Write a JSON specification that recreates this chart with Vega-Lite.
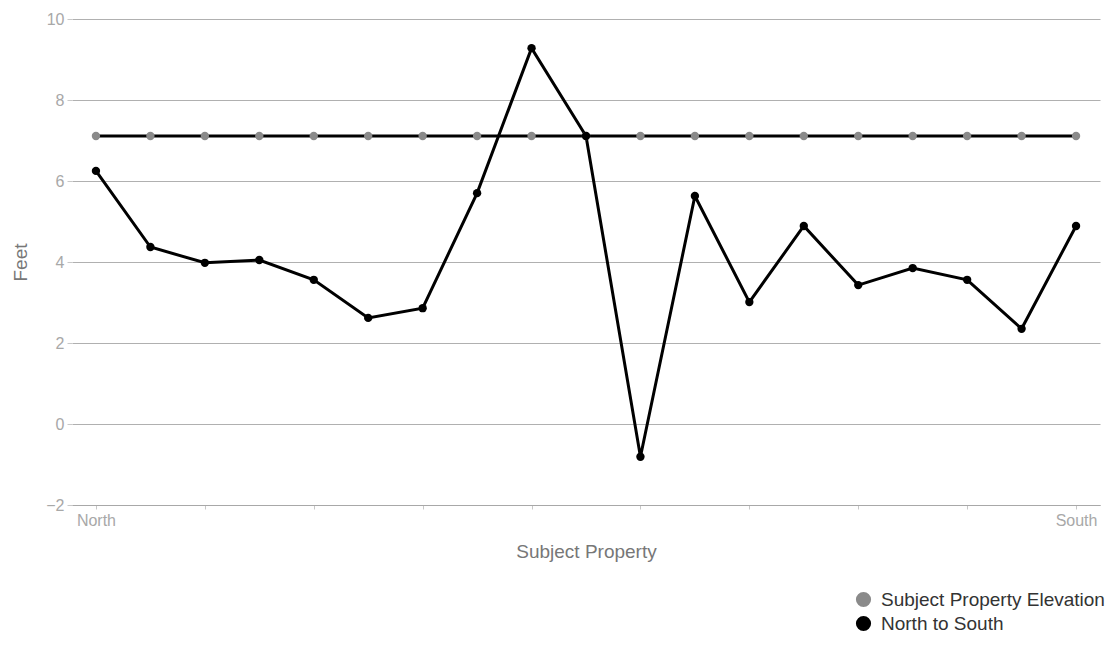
{
  "$schema": "https://vega.github.io/schema/vega-lite/v6.json",
  "width": 1028,
  "height": 486,
  "autosize": "none",
  "padding": {"left": 72, "top": 19, "right": 20, "bottom": 157},
  "background": "white",
  "config": {
    "font": "Liberation Sans",
    "view": {"stroke": null}
  },
  "data": {
    "values": [
      {"i": 1, "series": "Subject Property Elevation", "value": 7.11},
      {"i": 2, "series": "Subject Property Elevation", "value": 7.11},
      {"i": 3, "series": "Subject Property Elevation", "value": 7.11},
      {"i": 4, "series": "Subject Property Elevation", "value": 7.11},
      {"i": 5, "series": "Subject Property Elevation", "value": 7.11},
      {"i": 6, "series": "Subject Property Elevation", "value": 7.11},
      {"i": 7, "series": "Subject Property Elevation", "value": 7.11},
      {"i": 8, "series": "Subject Property Elevation", "value": 7.11},
      {"i": 9, "series": "Subject Property Elevation", "value": 7.11},
      {"i": 10, "series": "Subject Property Elevation", "value": 7.11},
      {"i": 11, "series": "Subject Property Elevation", "value": 7.11},
      {"i": 12, "series": "Subject Property Elevation", "value": 7.11},
      {"i": 13, "series": "Subject Property Elevation", "value": 7.11},
      {"i": 14, "series": "Subject Property Elevation", "value": 7.11},
      {"i": 15, "series": "Subject Property Elevation", "value": 7.11},
      {"i": 16, "series": "Subject Property Elevation", "value": 7.11},
      {"i": 17, "series": "Subject Property Elevation", "value": 7.11},
      {"i": 18, "series": "Subject Property Elevation", "value": 7.11},
      {"i": 19, "series": "Subject Property Elevation", "value": 7.11},
      {"i": 1, "series": "North to South", "value": 6.25},
      {"i": 2, "series": "North to South", "value": 4.37},
      {"i": 3, "series": "North to South", "value": 3.98},
      {"i": 4, "series": "North to South", "value": 4.05},
      {"i": 5, "series": "North to South", "value": 3.56},
      {"i": 6, "series": "North to South", "value": 2.62},
      {"i": 7, "series": "North to South", "value": 2.86},
      {"i": 8, "series": "North to South", "value": 5.7},
      {"i": 9, "series": "North to South", "value": 9.28},
      {"i": 10, "series": "North to South", "value": 7.11},
      {"i": 11, "series": "North to South", "value": -0.81},
      {"i": 12, "series": "North to South", "value": 5.63},
      {"i": 13, "series": "North to South", "value": 3.01},
      {"i": 14, "series": "North to South", "value": 4.89},
      {"i": 15, "series": "North to South", "value": 3.43},
      {"i": 16, "series": "North to South", "value": 3.85},
      {"i": 17, "series": "North to South", "value": 3.56},
      {"i": 18, "series": "North to South", "value": 2.35},
      {"i": 19, "series": "North to South", "value": 4.89}
    ]
  },
  "encoding": {
    "x": {
      "field": "i",
      "type": "quantitative",
      "scale": {"domain": [0.56, 19.44], "nice": false, "zero": false},
      "axis": {
        "title": "Subject Property",
        "titleFont": "Liberation Sans",
        "titleFontSize": 19,
        "titleFontWeight": "normal",
        "titleColor": "#777777",
        "titlePadding": 14,
        "values": [1, 3, 5, 7, 9, 11, 13, 15, 17, 19],
        "labelExpr": "datum.value == 1 ? 'North' : (datum.value == 19 ? 'South' : '')",
        "labelFontSize": 16,
        "labelColor": "#a8a8a8",
        "labelPadding": 3,
        "tickSize": 4,
        "tickColor": "#c8c8c8",
        "domainColor": "#a8a8a8",
        "grid": false
      }
    },
    "y": {
      "field": "value",
      "type": "quantitative",
      "scale": {"domain": [-2, 10], "nice": false},
      "axis": {
        "title": "Feet",
        "titleFont": "Liberation Sans",
        "titleFontSize": 19,
        "titleFontWeight": "normal",
        "titleColor": "#777777",
        "titlePadding": 15,
        "values": [-2, 0, 2, 4, 6, 8, 10],
        "labelFontSize": 16,
        "labelColor": "#a8a8a8",
        "labelPadding": 3,
        "tickSize": 5,
        "tickColor": "#c8c8c8",
        "domain": false,
        "grid": true,
        "gridColor": "#b0b0b0",
        "gridWidth": 1.2
      }
    }
  },
  "layer": [
    {
      "mark": {"type": "line", "color": "black", "strokeWidth": 3},
      "encoding": {"detail": {"field": "series"}}
    },
    {
      "mark": {"type": "point", "filled": true, "opacity": 1, "size": 70},
      "encoding": {
        "color": {
          "field": "series",
          "type": "nominal",
          "scale": {
            "domain": ["Subject Property Elevation", "North to South"],
            "range": ["#8a8a8a", "#000000"]
          },
          "legend": {
            "title": null,
            "orient": "none",
            "legendX": 782,
            "legendY": 571,
            "symbolType": "circle",
            "symbolSize": 230,
            "symbolOpacity": 1,
            "labelFontSize": 19,
            "labelColor": "#333333",
            "labelFont": "Liberation Sans",
            "labelLimit": 300,
            "rowPadding": 4,
            "labelOffset": 8
          }
        }
      }
    }
  ]
}
